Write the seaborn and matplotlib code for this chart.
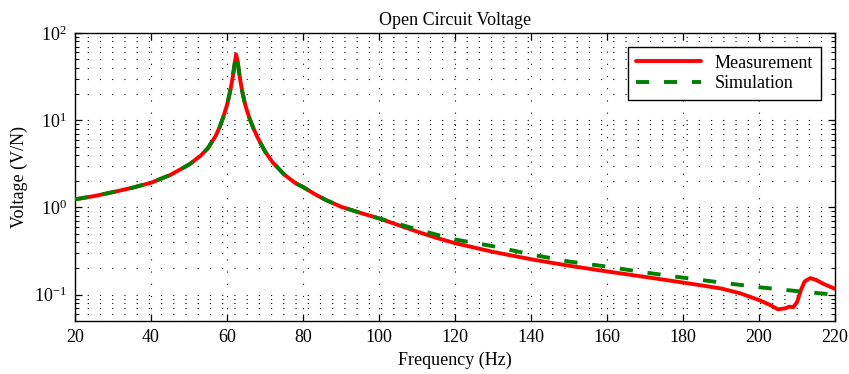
import matplotlib
matplotlib.use("Agg")
import matplotlib.pyplot as plt
import matplotlib.ticker as mticker
import seaborn as sns
import pandas as pd

# ---- data ----
meas_freq = [20, 25, 30, 35, 40, 45, 50, 53, 55, 57, 58, 59, 60, 60.5, 61, 61.5, 62, 62.4,
             62.8, 63.2, 63.6, 64, 64.5, 65, 66, 67, 68, 69, 70, 72, 75, 78, 80, 83, 86, 90,
             95, 100, 105, 110, 115, 120, 130, 140, 150, 160, 170, 180, 190, 195, 200, 203,
             205, 207, 208, 209, 210, 211, 212, 213.5, 215, 217, 220]
meas_volt = [1.24, 1.35, 1.50, 1.68, 1.92, 2.35, 3.1, 3.9, 4.8, 6.6, 8.2, 10.8, 15.0, 18.5,
             23.5, 31, 44, 57, 47, 35, 27, 21.5, 17, 14, 10.3, 8.0, 6.4, 5.3, 4.4, 3.3, 2.4,
             1.9, 1.72, 1.43, 1.22, 1.02, 0.87, 0.75, 0.63, 0.53, 0.45, 0.39, 0.31, 0.255,
             0.215, 0.185, 0.16, 0.138, 0.118, 0.104, 0.087, 0.076, 0.068, 0.070, 0.073,
             0.072, 0.082, 0.112, 0.142, 0.155, 0.148, 0.133, 0.117]

sim_freq = [20, 25, 30, 35, 40, 45, 50, 53, 55, 57, 58, 59, 60, 60.5, 61, 61.5, 62, 62.4,
            62.8, 63.2, 63.6, 64, 64.5, 65, 66, 67, 68, 69, 70, 72, 75, 78, 80, 83, 86, 90,
            95, 100, 105, 110, 115, 120, 130, 140, 150, 160, 170, 180, 190, 200, 210, 220]
sim_volt = [1.24, 1.35, 1.50, 1.68, 1.92, 2.35, 3.1, 3.9, 4.8, 6.6, 8.2, 10.8, 15.0, 18.5,
            23.5, 31, 44, 57, 47, 35, 27, 21.5, 17, 14, 10.3, 8.0, 6.4, 5.3, 4.4, 3.3, 2.4,
            1.9, 1.72, 1.43, 1.22, 1.02, 0.87, 0.75, 0.65, 0.56, 0.49, 0.43, 0.36, 0.29,
            0.24, 0.21, 0.18, 0.157, 0.138, 0.122, 0.11, 0.10]

x_ticks = [20, 40, 60, 80, 100, 120, 140, 160, 180, 200, 220]

sns.set_theme(style="white")
plt.rcParams.update({
    "font.family": ["Liberation Serif", "DejaVu Serif"],
    "mathtext.fontset": "stix",
    "font.size": 13,
    "axes.edgecolor": "black",
    "axes.linewidth": 1.0,
    "xtick.direction": "in",
    "ytick.direction": "in",
    "xtick.bottom": True,
    "ytick.left": True,
    "xtick.top": True,
    "ytick.right": True,
    "xtick.color": "black",
    "ytick.color": "black",
    "text.color": "black",
    "axes.labelcolor": "black",
})

fig = plt.figure(figsize=(8.49, 3.74), dpi=100)
ax = fig.add_axes([75/849, 1-321/374, (835-75)/849, (321-33)/374])

df_m = pd.DataFrame({"f": meas_freq, "v": meas_volt})
df_s = pd.DataFrame({"f": sim_freq, "v": sim_volt})

sns.lineplot(data=df_m, x="f", y="v", ax=ax, color="#ff0000", lw=2.8,
             label="Measurement", zorder=3)
sns.lineplot(data=df_s, x="f", y="v", ax=ax, color="#008000", lw=2.8,
             dashes=False, label="Simulation", zorder=4)
ax.lines[1].set_dashes((3.4, 3.8))

ax.set_yscale("log")
ax.set_xlim(20, 220)
ax.set_ylim(0.05, 100)
ax.set_xticks(x_ticks)
ax.set_xticklabels([str(t) for t in x_ticks])
ax.xaxis.set_minor_locator(mticker.NullLocator())
ax.yaxis.set_major_locator(mticker.LogLocator(base=10, numticks=10))
ax.yaxis.set_minor_locator(mticker.LogLocator(base=10, subs=range(2, 10), numticks=20))
ax.yaxis.set_minor_formatter(mticker.NullFormatter())
ax.tick_params(which="major", length=5, width=0.9, labelsize=13, pad=6,
               bottom=True, left=True, top=True, right=True)
ax.tick_params(which="minor", length=3, width=0.7, left=True, right=True)

grid_kw = dict(color="black", linestyle=(0, (1, 10)), linewidth=0.8)
ax.grid(True, which="major", axis="both", **grid_kw)
ax.grid(True, which="minor", axis="y", **grid_kw)

ax.set_xlabel("Frequency (Hz)", fontsize=13, labelpad=4)
ax.set_ylabel("Voltage (V/N)", fontsize=13, labelpad=4)
ax.set_title("Open Circuit Voltage", fontsize=13, pad=6)

leg = ax.legend(loc="upper right", fontsize=13, frameon=True, fancybox=False,
                edgecolor="black", framealpha=1, handlelength=3.6,
                borderaxespad=0.8, borderpad=0.4, labelspacing=0.2)
leg.get_frame().set_linewidth(1.0)
for h in leg.get_lines():
    h.set_linewidth(2.8)

fig.savefig("out.png", dpi=100)
